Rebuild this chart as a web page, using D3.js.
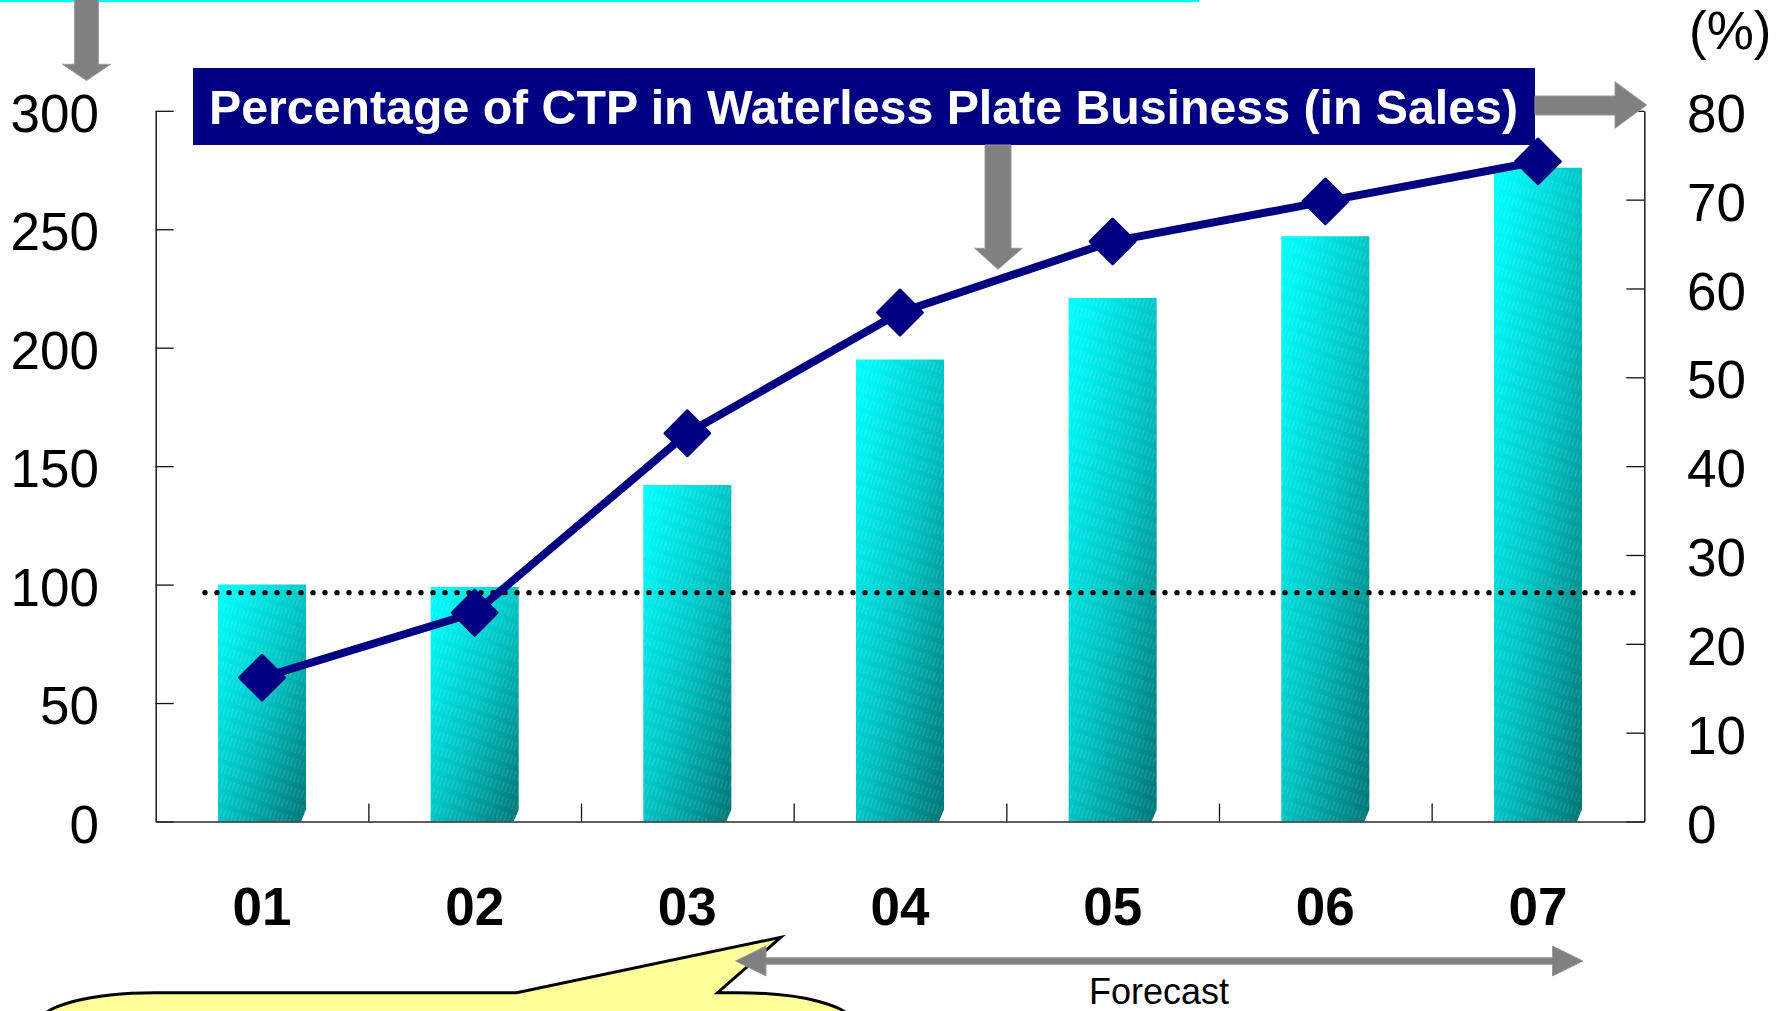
<!DOCTYPE html>
<html>
<head>
<meta charset="utf-8">
<script src="https://cdn.jsdelivr.net/npm/d3@7"></script>
<style>
  html, body { margin: 0; padding: 0; background: #ffffff; }
  svg { display: block; font-family: "Liberation Sans", Arial, sans-serif; }
</style>
</head>
<body>
<svg id="chart" width="1782" height="1011"></svg>
<script>
// Fiscal years shown on the category axis
const categories = ["01", "02", "03", "04", "05", "06", "07"];
// Sales index of the waterless plate business (left axis)
const salesIndex = [100, 99, 142, 195, 221, 247, 276];
// Share of CTP plates in waterless plate sales, % (right axis)
const ctpShare = [16.2, 23.5, 43.7, 57.3, 65.3, 69.8, 74.3];
// Axis tick values
const leftTicks = [0, 50, 100, 150, 200, 250, 300];
const rightTicks = [0, 10, 20, 30, 40, 50, 60, 70, 80];
// Reference level drawn as a dotted line (left-axis units)
const referenceLevel = [96.6];
// Texts
const titleText = "Percentage of CTP in Waterless Plate Business (in Sales)";
const forecastText = "Forecast";
const unitText = "(%)";

const svg = d3.select("#chart");
const plot = { left: 155.7, right: 1644.3, top: 110.8, bottom: 821.5 };

const x = d3.scaleBand().domain(categories).range([plot.left, plot.right]).padding(0);
const xEdge = d3.scaleLinear().domain([0, categories.length]).range([plot.left, plot.right]);
const yL = d3.scaleLinear().domain([0, 300]).range([plot.bottom, plot.top]);
const yR = d3.scaleLinear().domain([0, 80]).range([plot.bottom, plot.top]);

// ---------- defs: bar shading ----------
const defs = svg.append("defs");
const grad = defs.append("linearGradient")
  .attr("id", "barFill").attr("x1", 0).attr("y1", 0).attr("x2", 1).attr("y2", 1);
grad.append("stop").attr("offset", "0%").attr("stop-color", "#00ffff");
grad.append("stop").attr("offset", "12%").attr("stop-color", "#00f4f4");
grad.append("stop").attr("offset", "50%").attr("stop-color", "#00c6c6");
grad.append("stop").attr("offset", "100%").attr("stop-color", "#007474");

const pat = defs.append("pattern")
  .attr("id", "barGrain").attr("patternUnits", "userSpaceOnUse")
  .attr("width", 4).attr("height", 14)
  .attr("patternTransform", "rotate(18)");
pat.append("line")
  .attr("x1", 1).attr("y1", 0).attr("x2", 1).attr("y2", 9)
  .attr("stroke", "#ffffff").attr("stroke-opacity", 0.22).attr("stroke-width", 0.8);

// ---------- top accent line ----------
svg.append("rect").attr("x", 0).attr("y", 0).attr("width", 1199).attr("height", 2.2).attr("fill", "#00ffff");

// ---------- bars ----------
const barW = x.bandwidth() * 0.414;
const barPath = (d, i) => {
  const x0 = x(categories[i]) + (x.bandwidth() - barW) / 2;
  const top = yL(d), bot = yL(0);
  return `M${x0},${top}H${x0 + barW}V${bot - 12}L${x0 + barW - 5},${bot}H${x0}Z`;
};
const bars = svg.append("g").attr("class", "bars");
bars.selectAll("path.bar").data(salesIndex).join("path")
  .attr("class", "bar").attr("d", barPath).attr("fill", "url(#barFill)");
bars.selectAll("path.grain").data(salesIndex).join("path")
  .attr("class", "grain").attr("d", barPath).attr("fill", "url(#barGrain)");

// ---------- axes ----------
const axisStyle = g => {
  g.selectAll(".domain").attr("stroke", "#2a2a2a").attr("stroke-width", 1.6);
  g.selectAll(".tick line").attr("stroke", "#111").attr("stroke-width", 1.3);
  g.selectAll(".tick text")
    .attr("fill", "#000").attr("font-size", 53).attr("font-family", "'Liberation Sans', Arial, sans-serif");
};

svg.append("g").attr("transform", `translate(${plot.left},0)`)
  .call(d3.axisLeft(yL).tickValues(leftTicks).tickSizeInner(-18).tickSizeOuter(0).tickPadding(56.7))
  .call(axisStyle)
  .call(g => g.selectAll(".tick text").attr("dy", "0.39em"));

svg.append("g").attr("transform", `translate(${plot.right},0)`)
  .call(d3.axisRight(yR).tickValues(rightTicks).tickSizeInner(-18).tickSizeOuter(0).tickPadding(42.7))
  .call(axisStyle)
  .call(g => g.selectAll(".tick text").attr("dy", "0.39em"));

// category labels + baseline
svg.append("g").attr("transform", `translate(0,${plot.bottom})`)
  .call(d3.axisBottom(x).tickSize(0).tickSizeOuter(0))
  .call(axisStyle)
  .call(g => g.selectAll(".tick text")
    .attr("y", 925 - plot.bottom).attr("dy", 0).attr("font-weight", "bold"));

// separators between categories
svg.append("g").attr("transform", `translate(0,${plot.bottom})`)
  .call(d3.axisBottom(xEdge).tickValues(d3.range(1, categories.length)).tickSizeInner(-18).tickSizeOuter(0).tickFormat(""))
  .call(axisStyle)
  .call(g => g.select(".domain").remove());

// ---------- dotted reference line ----------
svg.append("g").selectAll("line").data(referenceLevel).join("line")
  .attr("x1", 205).attr("x2", 1640)
  .attr("y1", d => yL(d)).attr("y2", d => yL(d))
  .attr("stroke", "#000").attr("stroke-width", 5.4)
  .attr("stroke-linecap", "round").attr("stroke-dasharray", "0 12");

// ---------- CTP share line ----------
const cx = (d, i) => x(categories[i]) + x.bandwidth() / 2;
svg.append("path")
  .datum(ctpShare)
  .attr("d", d3.line().x(cx).y(d => yR(d)))
  .attr("fill", "none").attr("stroke", "#000080").attr("stroke-width", 8)
  .attr("stroke-linejoin", "round");

const diamond = d3.symbol().type(d3.symbolSquare).size(1000);
svg.append("g").selectAll("path").data(ctpShare).join("path")
  .attr("d", diamond)
  .attr("transform", (d, i) => `translate(${cx(d, i)},${yR(d)}) rotate(45)`)
  .attr("fill", "#000080").attr("stroke", "#000080").attr("stroke-width", 3)
  .attr("stroke-linejoin", "round");

// ---------- title box ----------
svg.append("rect").attr("x", 193).attr("y", 68).attr("width", 1535 - 193).attr("height", 145 - 68)
  .attr("fill", "#000080");
svg.append("text").attr("x", 209).attr("y", 124)
  .attr("font-size", 48).attr("font-weight", "bold").attr("fill", "#ffffff")
  .attr("textLength", 1309).attr("lengthAdjust", "spacingAndGlyphs")
  .text(titleText);

// ---------- unit label ----------
svg.append("text").attr("x", 1689).attr("y", 49).attr("font-size", 53).attr("fill", "#000").text(unitText);

// ---------- callout bubble ----------
const bubble = d3.path();
bubble.moveTo(40, 1040);
bubble.lineTo(40, 1022.7);
bubble.bezierCurveTo(40, 1006, 90, 992.7, 155, 992.7);
bubble.lineTo(516.6, 992.7);
bubble.lineTo(780.7, 937.3);
bubble.lineTo(717.6, 992.7);
bubble.lineTo(737, 992.7);
bubble.bezierCurveTo(802, 992.7, 852, 1006, 852, 1022.7);
bubble.lineTo(852, 1040);
svg.append("path").attr("d", bubble.toString())
  .attr("fill", "#ffff99").attr("stroke", "#000").attr("stroke-width", 3).attr("stroke-linejoin", "miter");

// ---------- grey arrows ----------
const arrowStyle = sel => sel.attr("fill", "#808080").attr("stroke", "#9a9a9a").attr("stroke-width", 1);
const poly = pts => "M" + pts.map(p => p.join(",")).join("L") + "Z";

// down arrow at top-left (toward left axis)
svg.append("path").call(arrowStyle).attr("d", poly([
  [74.6, -2], [98.4, -2], [98.4, 64.3], [110.5, 64.3], [86.5, 80.5], [62.4, 64.3], [74.6, 64.3]
]));
// right arrow from the title box toward the right axis
svg.append("path").call(arrowStyle).attr("d", poly([
  [1535, 96], [1615, 96], [1615, 81.7], [1646.7, 105], [1615, 128.3], [1615, 115], [1535, 115]
]));
// down arrow from the title box toward the line
svg.append("path").call(arrowStyle).attr("d", poly([
  [985, 145], [1011, 145], [1011, 248.3], [1022.3, 248.3], [998, 269.3], [974.7, 248.3], [985, 248.3]
]));
// forecast range double arrow
svg.append("path").call(arrowStyle).attr("d", poly([
  [735.6, 961], [766, 946], [766, 957.8], [1552.5, 957.8], [1552.5, 946], [1583, 961],
  [1552.5, 976], [1552.5, 964.2], [766, 964.2], [766, 976]
]));

svg.append("text").attr("x", 1159).attr("y", 1004).attr("text-anchor", "middle")
  .attr("font-size", 36).attr("fill", "#000").text(forecastText);
</script>
</body>
</html>
